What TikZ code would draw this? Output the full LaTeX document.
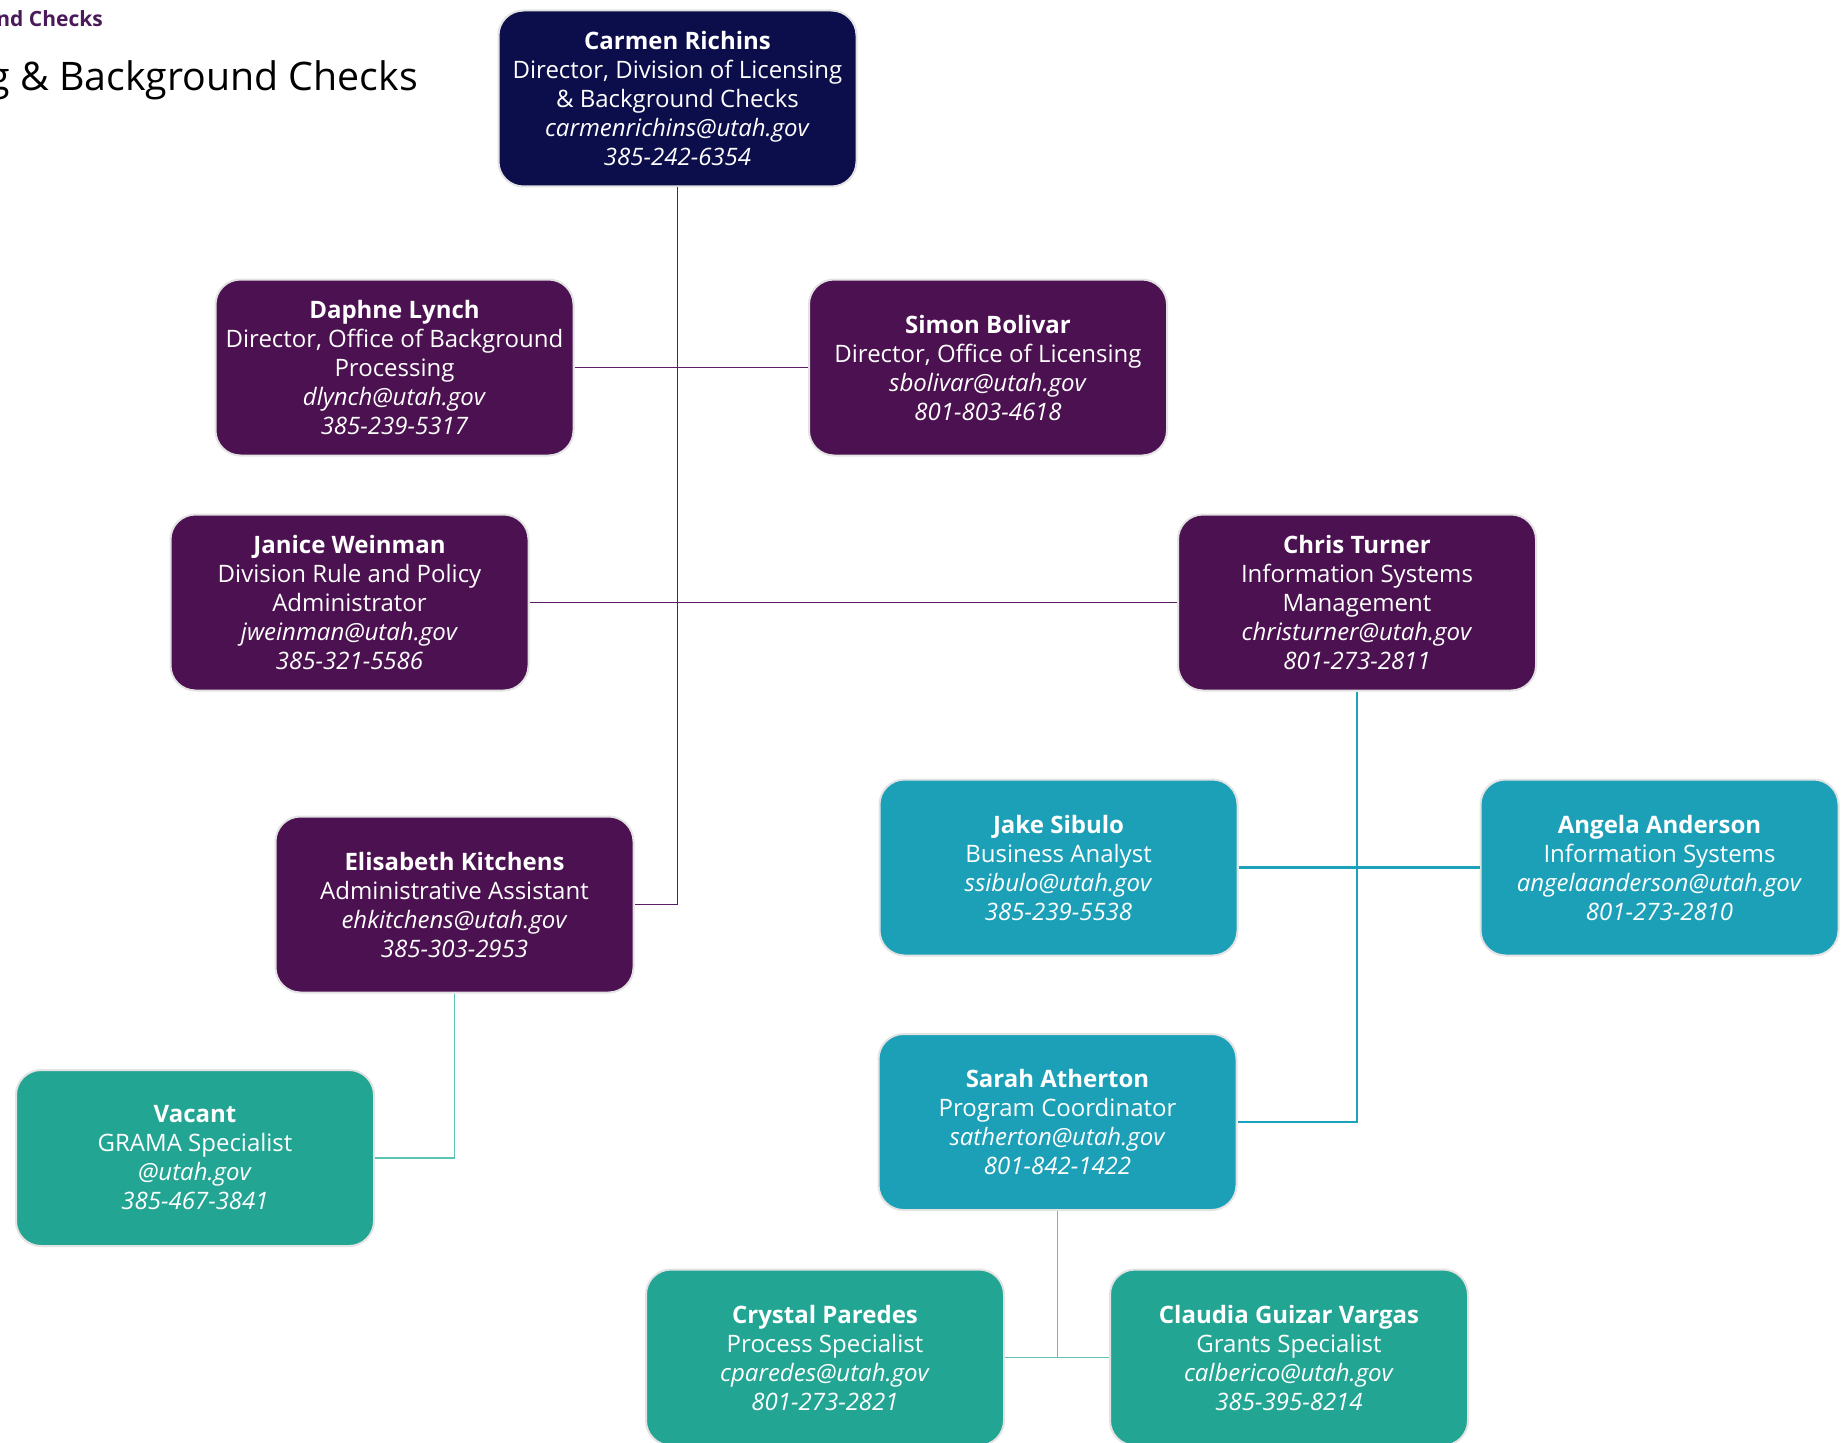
\documentclass[tikz,border=0pt]{standalone}
\usepackage{fontspec}
\setmainfont{Open Sans}
\definecolor{navy}{HTML}{0C0D4B}
\definecolor{plum}{HTML}{4B1150}
\definecolor{plumline}{HTML}{5A1D66}
\definecolor{cyanbox}{HTML}{1CA0B8}
\definecolor{cyanline}{HTML}{1CA3BC}
\definecolor{tealbox}{HTML}{23A594}
\definecolor{tealline}{HTML}{5CC4B6}
\definecolor{edgegray}{HTML}{E3E3E3}
\definecolor{titleplum}{HTML}{4A1A5A}
\tikzset{
  person/.style={draw=edgegray, line width=2pt, rounded corners=25pt,
    minimum width=358pt, minimum height=176pt, align=center, text=white,
    inner sep=0pt, font=\fontsize{24}{29}\selectfont},
  navybox/.style={person, fill=navy},
  plumbox/.style={person, fill=plum},
  cyanbx/.style={person, fill=cyanbox},
  tealbx/.style={person, fill=tealbox},
  plumlink/.style={draw=plumline, line width=1.4pt},
  cyanlink/.style={draw=cyanline, line width=2.6pt},
  teallink/.style={draw=tealline, line width=1.6pt},
}
\newcommand{\pcard}[4]{\textbf{#1}\\#2\\\textit{#3}\\\textit{#4}}
\begin{document}
\begin{tikzpicture}[x=1pt, y=-1pt]
\useasboundingbox (0,0) rectangle (1843,1442);
\clip (0,0) rectangle (1843,1442);
\fill[white] (0,0) rectangle (1843,1442);

\node[anchor=base east, text=titleplum, font=\bfseries\fontsize{21}{25}\selectfont, inner sep=0pt] (sub) at (103,27) {nd Checks};
\node[anchor=base east, text=black, font=\fontsize{39.3}{48}\selectfont, inner sep=0pt] (title) at (418,91) {g \& Background Checks};

\node[navybox] (carmen) at (677.5,98.5) {\textbf{Carmen Richins}\\Director, Division of Licensing\\\& Background Checks\\\textit{carmenrichins@utah.gov}\\\textit{385-242-6354}};
\node[plumbox] (daphne) at (394.5,367.5) {\textbf{Daphne Lynch}\\Director, Office of Background\\Processing\\\textit{dlynch@utah.gov}\\\textit{385-239-5317}};
\node[plumbox] (simon) at (988,367.5) {\pcard{Simon Bolivar}{Director, Office of Licensing}{sbolivar@utah.gov}{801-803-4618}};
\node[plumbox] (janice) at (349.5,602.5) {\textbf{Janice Weinman}\\Division Rule and Policy\\Administrator\\\textit{jweinman@utah.gov}\\\textit{385-321-5586}};
\node[plumbox] (chris) at (1357,602.5) {\textbf{Chris Turner}\\Information Systems\\Management\\\textit{christurner@utah.gov}\\\textit{801-273-2811}};
\node[plumbox] (elis) at (454.5,904.5) {\pcard{Elisabeth Kitchens}{Administrative Assistant}{ehkitchens@utah.gov}{385-303-2953}};
\node[tealbx] (vacant) at (195,1158) {\pcard{Vacant}{GRAMA Specialist}{@utah.gov}{385-467-3841}};
\node[cyanbx] (jake) at (1058.5,867.5) {\pcard{Jake Sibulo}{Business Analyst}{ssibulo@utah.gov}{385-239-5538}};
\node[cyanbx] (angela) at (1659.5,867.5) {\pcard{Angela Anderson}{Information Systems}{angelaanderson@utah.gov}{801-273-2810}};
\node[cyanbx] (sarah) at (1057.5,1122) {\pcard{Sarah Atherton}{Program Coordinator}{satherton@utah.gov}{801-842-1422}};
\node[tealbx] (crystal) at (825,1357.5) {\pcard{Crystal Paredes}{Process Specialist}{cparedes@utah.gov}{801-273-2821}};
\node[tealbx] (claudia) at (1289,1357.5) {\pcard{Claudia Guizar Vargas}{Grants Specialist}{calberico@utah.gov}{385-395-8214}};

% purple connectors
\draw[plumlink] (carmen.south) |- (elis.east);
\draw[plumlink] (daphne.east) -- (simon.west);
\draw[plumlink] (janice.east) -- (chris.west);
% cyan connectors
\draw[cyanlink] (chris.south) |- (sarah.east);
\draw[cyanlink] (jake.east) -- (angela.west);
% teal connectors
\draw[teallink] (elis.south) |- (vacant.east);
\coordinate (sarahjoin) at (sarah.south |- crystal.east);
\draw[teallink] (sarah.south) -- (sarahjoin);
\draw[teallink] (crystal.east) -- (claudia.west);
\end{tikzpicture}
\end{document}
